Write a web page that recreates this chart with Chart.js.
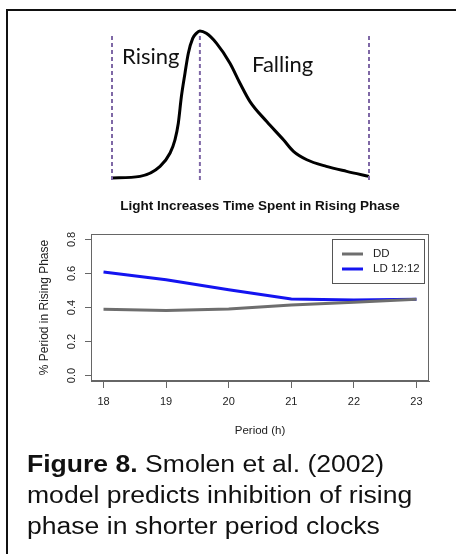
<!DOCTYPE html>
<html>
<head>
<meta charset="utf-8">
<script src="https://cdn.jsdelivr.net/npm/chart.js@4.4.1/dist/chart.umd.min.js"></script>
<style>
  html, body { margin: 0; padding: 0; background: #fff; }
  #page { position: relative; width: 456px; height: 554px; overflow: hidden; background: #fff; }
  #frame { position: absolute; left: 6px; top: 9px; width: 470px; height: 570px;
           border-left: 2px solid #111; border-top: 2px solid #111; }
  canvas { position: absolute; }
  #schematic { left: 0; top: 0; }
  #phaseChart { left: 0; top: 190px; }
  .phase-label { position: absolute; font-family: Lato, sans-serif; font-size: 22px;
                 line-height: 22px; color: #111; white-space: nowrap; }
  #caption { position: absolute; left: 27px; top: 449px; white-space: nowrap;
             font-family: "Liberation Sans", Arial, sans-serif; font-size: 23.5px;
             line-height: 31px; color: #111;
             transform: scaleX(1.13); transform-origin: 0 0; }
</style>
</head>
<body>
<div id="page">
  <div id="frame"></div>
  <canvas id="schematic" width="456" height="190"></canvas>
  <div class="phase-label" style="left:122px; top:44.5px;">Rising</div>
  <div class="phase-label" style="left:252px; top:52.5px;">Falling</div>
  <canvas id="phaseChart" width="456" height="260"></canvas>
  <div id="caption"><b>Figure 8.</b> Smolen et al. (2002)<br>model predicts inhibition of rising<br>phase in shorter period clocks</div>
</div>
<script>
// One schematic cycle: normalised time (trough -> peak -> trough) and normalised level
const cycleTime  = [0, 0.109, 0.187, 0.226, 0.245, 0.258, 0.270, 0.284, 0.297, 0.314, 0.328, 0.342,
                    0.367, 0.407, 0.459, 0.498, 0.537, 0.602, 0.667, 0.706, 0.758, 0.834, 0.913, 1.0];
const cycleLevel = [0, 0.011, 0.079, 0.170, 0.260, 0.373, 0.554, 0.713, 0.849, 0.950, 0.984, 1.0,
                    0.984, 0.916, 0.781, 0.645, 0.520, 0.384, 0.260, 0.181, 0.124, 0.079, 0.045, 0.011];
// Phase boundaries: first trough, peak, second trough
const phaseMarks = [0, 0.342, 1.0];
const markSpan = [-0.014, 0.986];

// Fraction of the period spent in the rising phase
const periods   = [18, 19, 20, 21, 22, 23];
const ddRising  = [0.389, 0.383, 0.391, 0.415, 0.431, 0.448];
const ldRising  = [0.608, 0.563, 0.504, 0.450, 0.444, 0.448];
const seriesNames = ['DD', 'LD 12:12'];
const periodTicks   = [18, 19, 20, 21, 22, 23];
const fractionTicks = [0, 0.2, 0.4, 0.6, 0.8];

const sans = '"Liberation Sans", Arial, sans-serif';

// ---- Schematic of the rising and falling phases ----
const markSets = phaseMarks.map(t => ({
  data: markSpan.map(v => ({ x: t, y: v })),
  borderColor: '#7f68a6',
  borderWidth: 2,
  borderDash: [4, 3],
  pointRadius: 0,
  clip: false
}));

new Chart(document.getElementById('schematic'), {
  type: 'line',
  data: {
    datasets: [
      ...markSets,
      {
        data: cycleTime.map((t, i) => ({ x: t, y: cycleLevel[i] })),
        borderColor: '#000',
        borderWidth: 3,
        pointRadius: 0,
        cubicInterpolationMode: 'monotone',
        clip: false
      }
    ]
  },
  options: {
    responsive: false,
    animation: false,
    devicePixelRatio: 1,
    layout: { padding: { left: 112, right: 87, top: 31, bottom: 12 } },
    plugins: { legend: { display: false }, tooltip: { enabled: false } },
    scales: {
      x: { type: 'linear', min: 0, max: 1, display: false },
      y: { type: 'linear', min: 0, max: 1, display: false }
    }
  }
});

// ---- Model predictions ----
const frameAndKey = {
  id: 'frameAndKey',
  afterDatasetsDraw(chart) {
    const { ctx, chartArea: a } = chart;
    ctx.save();
    // plot box
    ctx.strokeStyle = '#666';
    ctx.lineWidth = 1;
    const l = Math.round(a.left) + 0.5, t = Math.round(a.top) + 0.5;
    const r = Math.round(a.right) - 0.5, b = Math.round(a.bottom) - 0.5;
    ctx.strokeRect(l, t, r - l, b - t);
    // key, top right inside the plot
    const kw = 92, kh = 44;
    const kx = Math.round(a.right) - 5 - kw, ky = Math.round(a.top) + 5;
    ctx.strokeStyle = '#555';
    ctx.strokeRect(kx + 0.5, ky + 0.5, kw, kh);
    ctx.font = '11.5px ' + sans;
    ctx.textBaseline = 'middle';
    ctx.textAlign = 'left';
    chart.data.datasets.forEach((ds, i) => {
      const y = ky + 15 + i * 15;
      ctx.strokeStyle = ds.borderColor;
      ctx.lineWidth = 3;
      ctx.beginPath();
      ctx.moveTo(kx + 10, y);
      ctx.lineTo(kx + 31, y);
      ctx.stroke();
      ctx.fillStyle = '#222';
      ctx.fillText(ds.label, kx + 41, y);
    });
    ctx.restore();
  }
};

new Chart(document.getElementById('phaseChart'), {
  type: 'line',
  data: {
    datasets: [
      {
        label: seriesNames[0],
        data: periods.map((p, i) => ({ x: p, y: ddRising[i] })),
        borderColor: '#6e6e6e',
        borderWidth: 3,
        pointRadius: 0,
        tension: 0
      },
      {
        label: seriesNames[1],
        data: periods.map((p, i) => ({ x: p, y: ldRising[i] })),
        borderColor: '#1414f0',
        borderWidth: 3,
        pointRadius: 0,
        tension: 0
      }
    ]
  },
  options: {
    responsive: false,
    animation: false,
    devicePixelRatio: 1,
    layout: { padding: { left: 30, right: 27, top: 0, bottom: 0 } },
    plugins: {
      legend: { display: false },
      tooltip: { enabled: false },
      title: {
        display: true,
        text: 'Light Increases Time Spent in Rising Phase',
        fullSize: false,
        color: '#111',
        font: { family: sans, size: 13.5, weight: 'bold' },
        padding: { top: 7.9, bottom: 19.9 }
      }
    },
    scales: {
      x: {
        type: 'linear',
        min: 17.8,
        max: 23.2,
        afterBuildTicks: s => { s.ticks = periodTicks.map(v => ({ value: v })); },
        afterFit: s => { s.height = 69; },
        grid: { display: true, drawOnChartArea: false, drawTicks: true, tickLength: 7, color: '#666' },
        border: { display: true, color: '#666' },
        ticks: { padding: 7.4, color: '#222', font: { family: sans, size: 11 }, callback: v => String(v) },
        title: { display: true, text: 'Period (h)', color: '#222',
                 font: { family: sans, size: 11.5 }, padding: { top: 0, bottom: 12 } }
      },
      y: {
        type: 'linear',
        min: -0.032,
        max: 0.832,
        afterBuildTicks: s => { s.ticks = fractionTicks.map(v => ({ value: v })); },
        afterFit: s => { s.width = 61; },
        grid: { display: true, drawOnChartArea: false, drawTicks: true, tickLength: 6, color: '#666' },
        border: { display: true, color: '#666' },
        ticks: { minRotation: 90, maxRotation: 90, crossAlign: 'center', padding: 5.4,
                 color: '#222', font: { family: sans, size: 11 }, callback: v => v.toFixed(1) },
        title: { display: true, text: '% Period in Rising Phase', color: '#222',
                 font: { family: sans, size: 12 }, padding: { top: 7.8, bottom: 0 } }
      }
    }
  },
  plugins: [frameAndKey]
});
</script>
</body>
</html>
